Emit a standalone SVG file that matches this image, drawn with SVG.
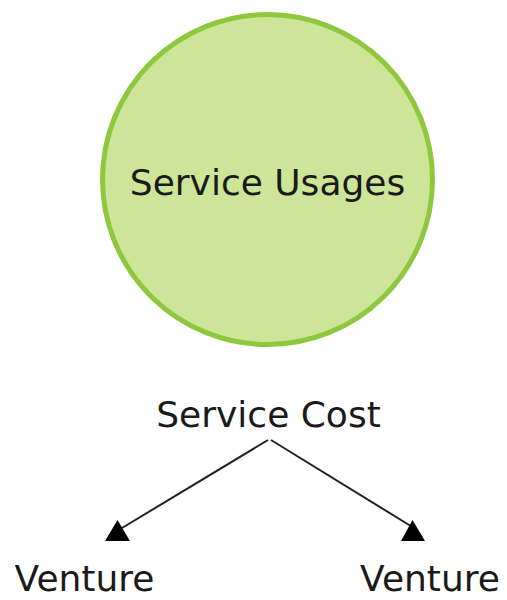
<svg xmlns="http://www.w3.org/2000/svg" width="507" height="600" viewBox="0 0 507 600">
<style>
.t{font-family:"DejaVu Sans","Liberation Sans",sans-serif;font-size:36px;fill:#1a1a1a;text-anchor:middle}
.c{stroke:#222;stroke-width:2;fill:none}
.a{fill:#000}
</style>
<rect width="507" height="600" fill="#fff"/>
<g id="service-usages">
<circle cx="267.5" cy="179.5" r="165" fill="#cce598" stroke="#8fc73e" stroke-width="5"/>
<text class="t" x="267.5" y="195">Service Usages</text>
</g>
<g id="service-cost">
<text class="t" x="268.5" y="427">Service Cost</text>
</g>
<g id="venture-left">
<text class="t" x="84.5" y="591">Venture</text>
</g>
<g id="venture-right">
<text class="t" x="430" y="591">Venture</text>
</g>
<g id="connectors">
<line class="c" x1="268" y1="440" x2="122" y2="528"/>
<polygon class="a" points="117.5,520 105,541 130,541"/>
<line class="c" x1="271" y1="440" x2="414" y2="528"/>
<polygon class="a" points="412.5,520 401,541 425,541"/>
</g>
</svg>
